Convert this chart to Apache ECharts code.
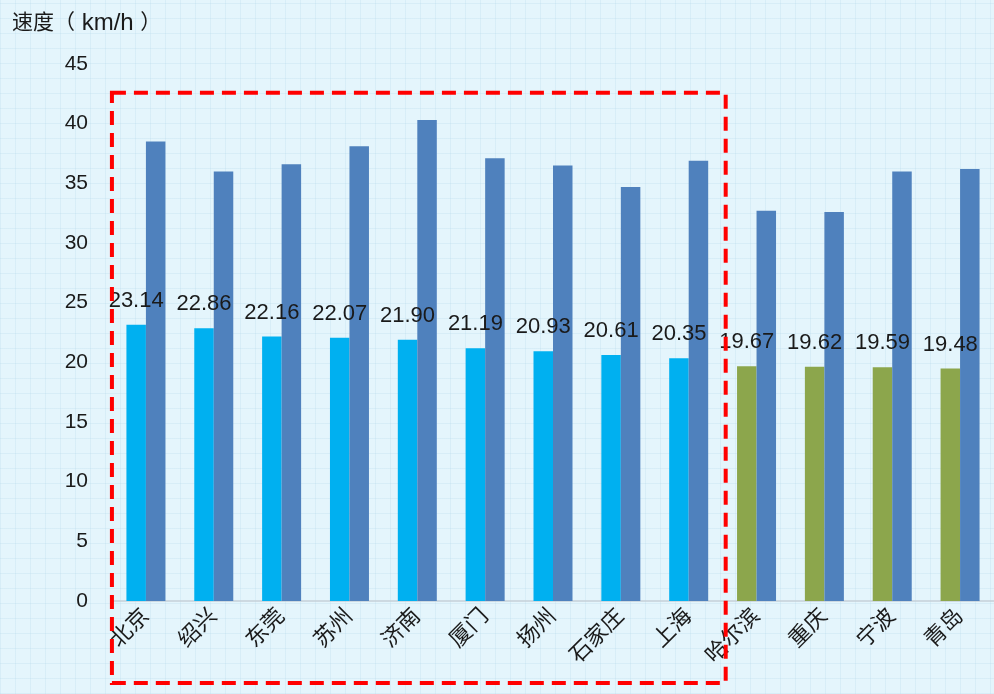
<!DOCTYPE html>
<html>
<head>
<meta charset="utf-8">
<script src="https://cdn.jsdelivr.net/npm/echarts@6/dist/echarts.min.js"></script>
<style>
html,body{margin:0;padding:0;}
#chart{width:994px;height:694px;
background-color:#e4f5fc;
background-image:
 repeating-linear-gradient(0deg, rgba(170,210,230,0.22) 0px, rgba(170,210,230,0.22) 1px, transparent 1px, transparent 15px),
 repeating-linear-gradient(90deg, rgba(170,210,230,0.22) 0px, rgba(170,210,230,0.22) 1px, transparent 1px, transparent 15px);
}
</style>
</head>
<body>
<div id="chart"></div>
<script>
var categories = ['北京','绍兴','东莞','苏州','济南','厦门','扬州','石家庄','上海','哈尔滨','重庆','宁波','青岛'];
var avgSpeed = [23.14,22.86,22.16,22.07,21.90,21.19,20.93,20.61,20.35,19.67,19.62,19.59,19.48];
var highSpeed = [38.5,36.0,36.6,38.1,40.3,37.1,36.5,34.7,36.9,32.7,32.6,36.0,36.2];
var highlightCount = 9;
var yTicks = [0,5,10,15,20,25,30,35,40,45];
var yTitleCn = '速度（';
var yTitleUnit = ' km/h ';
var yTitleEnd = '）';

var font = 'Liberation Sans, Arial, "Noto Sans CJK SC", sans-serif';
var chart = echarts.init(document.getElementById('chart'), null, {renderer:'canvas'});

var firstData = avgSpeed.map(function(v,i){
  return {value:v, itemStyle:{color: i < highlightCount ? '#00b0f0' : '#8ca64c'}};
});

chart.setOption({
  backgroundColor:'transparent',
  animation:false,
  title:{text:'{c|' + yTitleCn + '}{l|' + yTitleUnit + '}{c|' + yTitleEnd + '}', left:7, top:6,
    textStyle:{fontWeight:'normal', rich:{
      c:{fontSize:21, fontWeight:'normal', color:'#1a1a1a', fontFamily:font},
      l:{fontSize:24, fontWeight:'normal', color:'#1a1a1a', fontFamily:font}
    }}},
  grid:{left:112, right:0, top:64, bottom:93, containLabel:false},
  xAxis:{
    type:'category', data:categories,
    axisLine:{lineStyle:{color:'#c5d0d8', width:1.5}},
    axisTick:{show:false},
    axisLabel:{rotate:45, fontSize:22, color:'#1a1a1a', fontFamily:font, margin:12, interval:0}
  },
  yAxis:{
    type:'value', min:yTicks[0], max:yTicks[yTicks.length-1], interval:5,
    axisLine:{show:false}, axisTick:{show:false}, splitLine:{show:false},
    axisLabel:{fontSize:21, color:'#1a1a1a', fontFamily:font, margin:24}
  },
  series:[
    {type:'bar', data:firstData, barWidth:19.5, barGap:'0%',
     label:{show:true, position:'top', distance:13, fontSize:22, color:'#1a1a1a', fontFamily:font,
       formatter:function(p){return p.value.toFixed(2);}}},
    {type:'bar', data:highSpeed, barWidth:19.5, barGap:'0%',
     itemStyle:{color:'#4f81bd'}}
  ]
});

// red dashed annotation box around the highlighted categories
var p0 = chart.convertToPixel({xAxisIndex:0, yAxisIndex:0}, [0, 42.6]);
var p1 = chart.convertToPixel({xAxisIndex:0, yAxisIndex:0}, [highlightCount-1, 0]);
var half = 34;
chart.setOption({
  graphic:[{
    type:'rect', silent:true, z:100,
    shape:{x:p0[0]-half, y:p0[1], width:(p1[0]-p0[0])+2*half+3, height:683-p0[1]},
    style:{fill:'none', stroke:'#ff0000', lineWidth:4, lineDash:[14,8]}
  }]
});
</script>
</body>
</html>
